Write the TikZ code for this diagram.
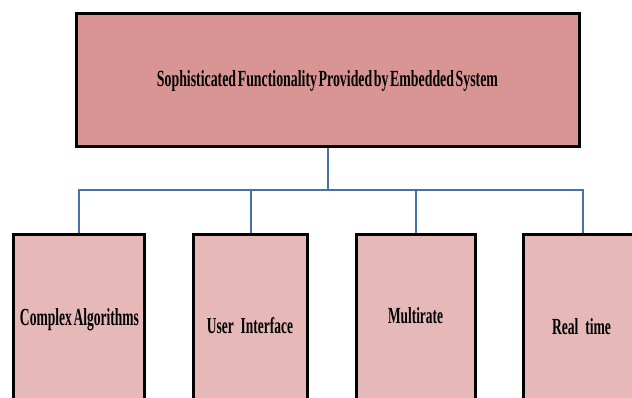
\documentclass[tikz,border=0pt]{standalone}
\usepackage{fontspec}
\setmainfont{Liberation Serif}
\definecolor{topred}{RGB}{217,149,148}
\definecolor{subred}{RGB}{230,185,184}
\definecolor{connblue}{RGB}{70,114,168}
\begin{document}
\begin{tikzpicture}[x=1pt,y=-1pt,
  box/.style={draw=black,line width=3pt,inner sep=0pt,rectangle},
  topbox/.style={box,fill=topred},
  subbox/.style={box,fill=subred,anchor=north,minimum height=200pt},
  conn/.style={draw=connblue,line width=2pt},
  lbl/.style={inner sep=0pt,anchor=base,font=\bfseries}]
\useasboundingbox (0,0) rectangle (632,398);
\clip (0,0) rectangle (632,398);
\node[topbox,minimum width=503pt,minimum height=133pt] (top) at (328,80) {};
\node[subbox,minimum width=131pt] (b1) at (79,233.5) {};
\node[subbox,minimum width=114pt] (b2) at (250.5,233.5) {};
\node[subbox,minimum width=119pt] (b3) at (416,233.5) {};
\node[subbox,minimum width=119pt] (b4) at (583,233.5) {};
\coordinate (bus) at (328,190);
\draw[conn] (top.south) -- (bus);
\draw[conn] (b1.north) |- (bus);
\draw[conn] (b2.north) |- (bus);
\draw[conn] (b3.north) |- (bus);
\draw[conn] (b4.north) |- (bus);
\node[lbl] (t0) at (327.5,87) {\resizebox{341pt}{16pt}{\spaceskip=0.12em Sophisticated Functionality Provided by Embedded System}};
\node[lbl] (t1) at (79.5,325) {\resizebox{119pt}{17pt}{\spaceskip=0.12em Complex Algorithms}};
\node[lbl] (t2) at (250,333) {\resizebox{86pt}{16pt}{User\ \ Interface}};
\node[lbl] (t3) at (415.5,323) {\resizebox{55pt}{16pt}{Multirate}};
\node[lbl] (t4) at (581.5,334) {\resizebox{59pt}{16pt}{Real\ \ time}};
\end{tikzpicture}
\end{document}
